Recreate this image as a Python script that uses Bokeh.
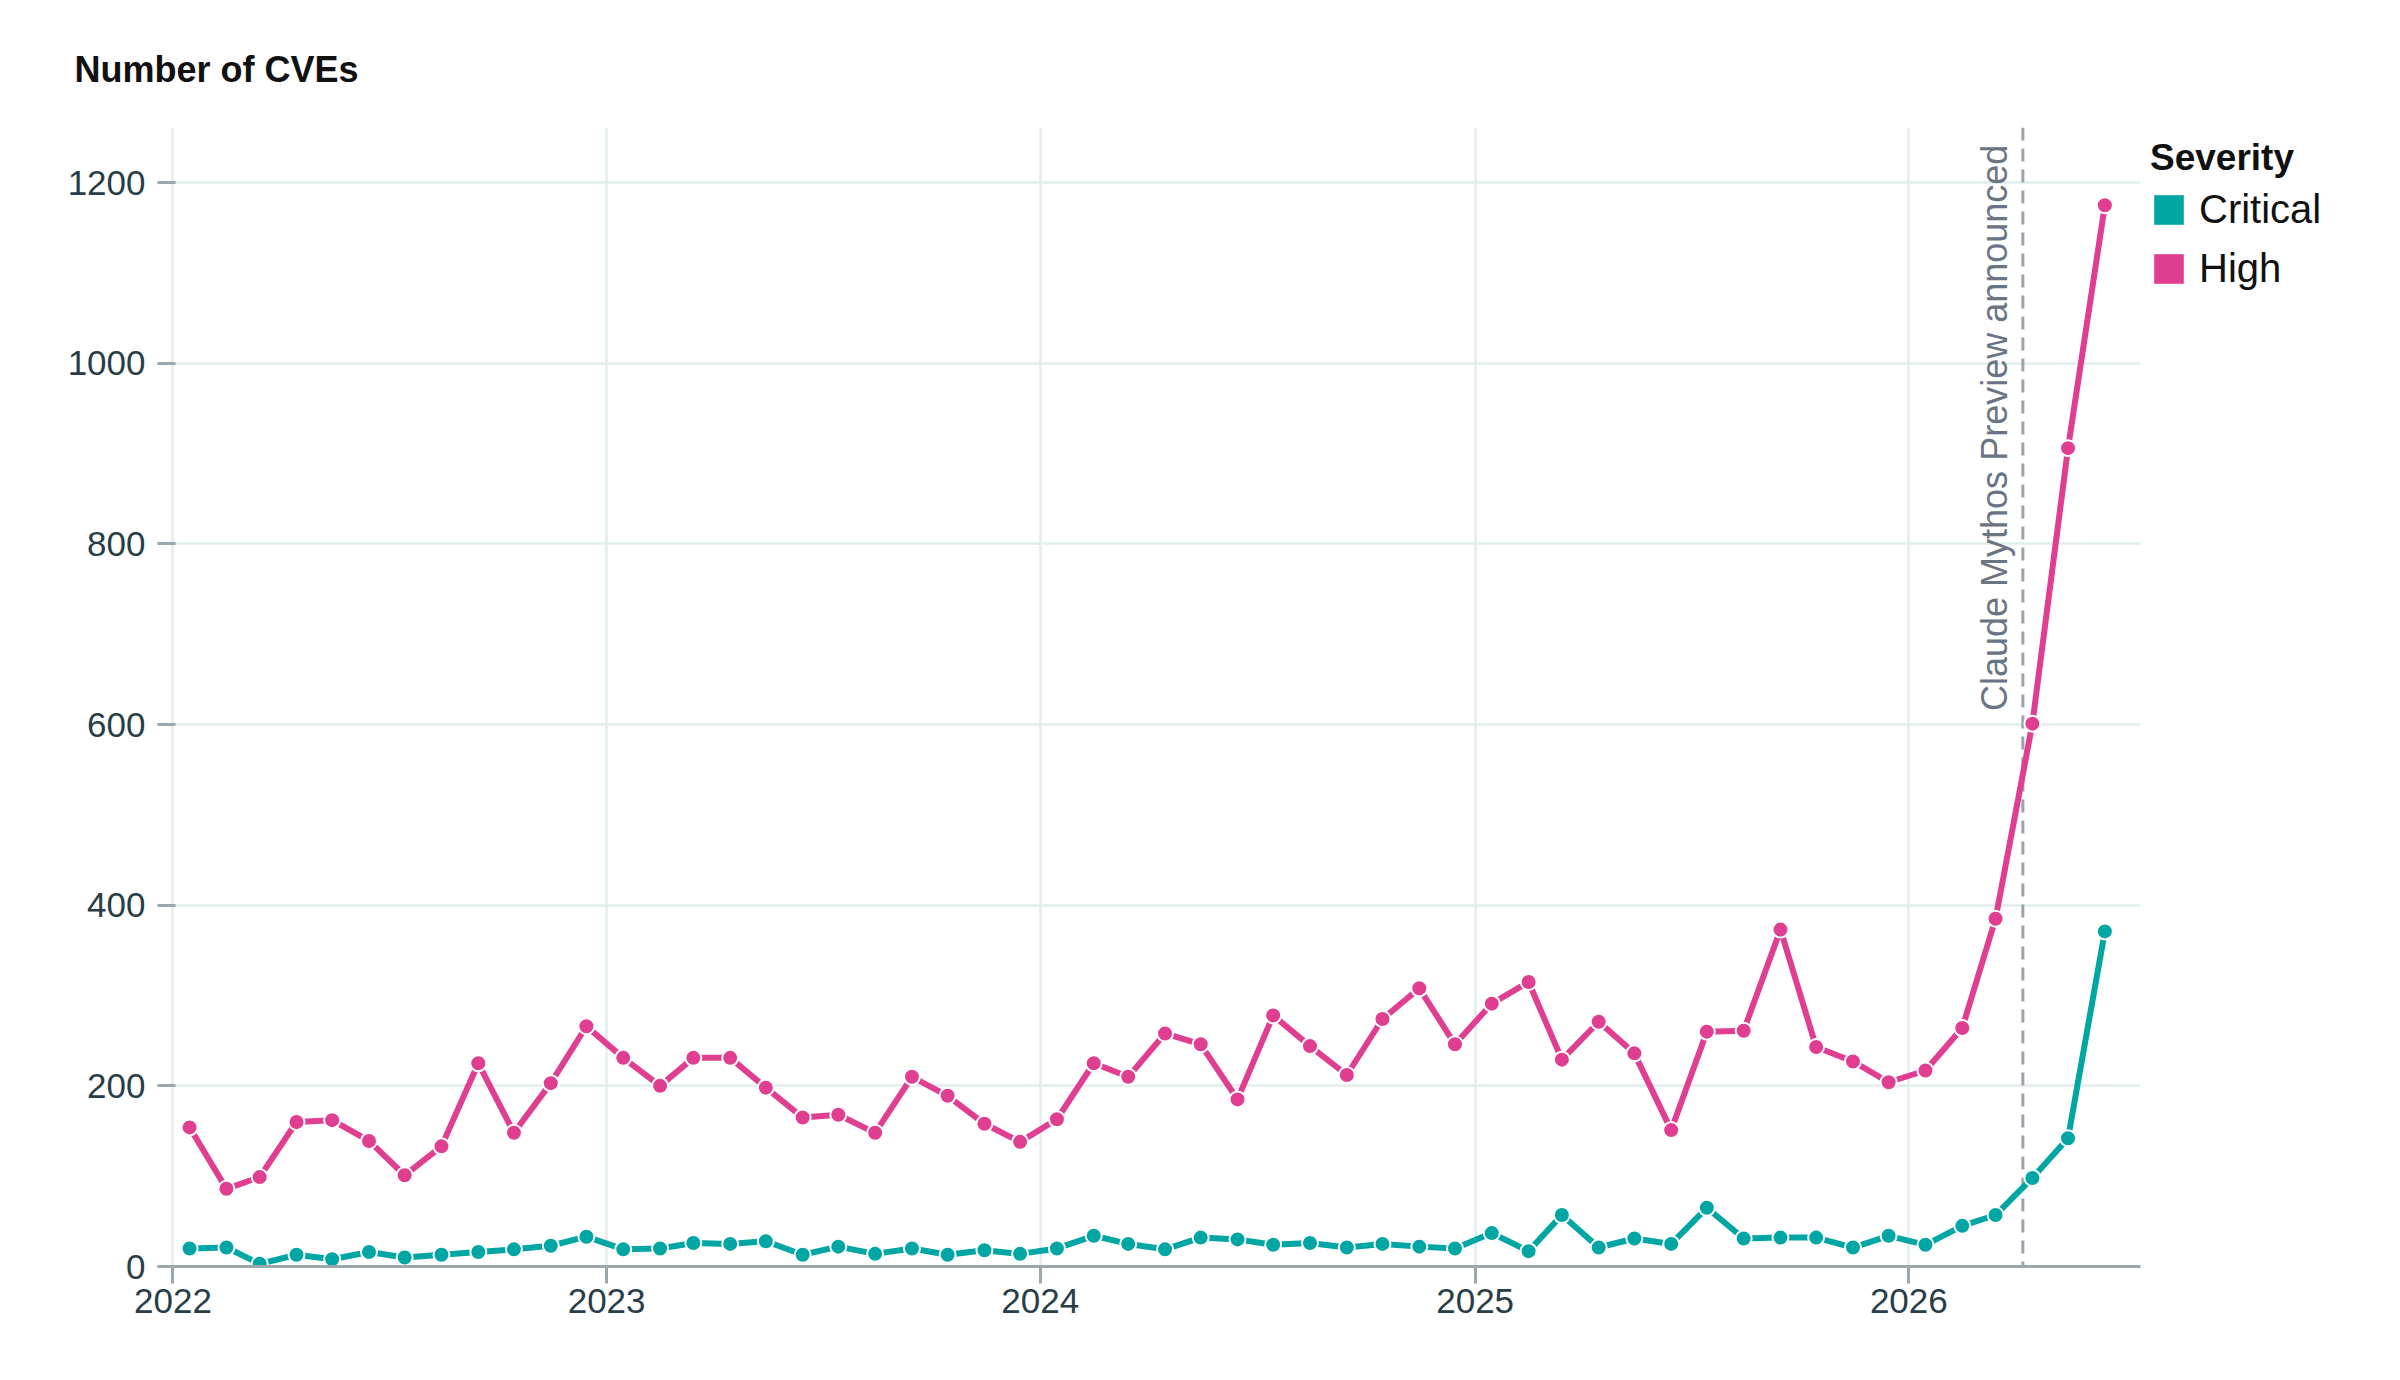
import math
import calendar
from datetime import datetime

from bokeh.plotting import figure
from bokeh.models import (ColumnDataSource, Range1d, FixedTicker, DatetimeTickFormatter,
                          Span, Label, Legend, LegendItem)
from bokeh.embed import file_html
from bokeh.resources import INLINE

# ---------------- data ----------------
years = [2022, 2023, 2024, 2025, 2026]
months_per_year = [12, 12, 12, 12, 6]
month_dates = [datetime(y, m, 15) for y, n in zip(years, months_per_year) for m in range(1, n + 1)]

high = [154, 86, 99, 160, 162, 139, 101, 133, 225, 148, 203, 266,
        231, 200, 231, 231, 198, 165, 168, 148, 210, 189, 158, 138,
        163, 225, 210, 258, 246, 185, 278, 244, 212, 274, 308, 246,
        291, 315, 229, 271, 236, 151, 260, 261, 373, 243, 227, 204,
        217, 264, 385, 601, 906, 1175]

critical = [20, 21, 3, 13, 8, 16, 10, 13, 16, 19, 23, 33,
            19, 20, 26, 25, 28, 13, 22, 14, 20, 13, 18, 14,
            20, 34, 25, 19, 32, 30, 24, 26, 21, 25, 22, 20,
            37, 17, 57, 21, 31, 25, 65, 31, 32, 32, 21, 34,
            24, 45, 57, 98, 142, 371]

y_ticks = [0, 200, 400, 600, 800, 1000, 1200]
tick_years = [2022, 2023, 2024, 2025, 2026]
series_names = ["Critical", "High"]
event_date = datetime(2026, 4, 7)
event_text = "Claude Mythos Preview announced"


def ms(d):
    return calendar.timegm(d.timetuple()) * 1000.0


# ---------------- style ----------------
FONT = "Liberation Sans"
TEAL = "#00a6a4"
PINK = "#e03e91"
GRID = "#e2eded"
AXIS = "#9aa7ad"
TICK_TXT = "#283d48"

p = figure(frame_width=1983, frame_height=1139, x_axis_type="datetime",
           x_range=Range1d(ms(datetime(2021, 12, 19)), ms(datetime(2026, 7, 15))),
           y_range=Range1d(0, 1261),
           output_backend="svg", toolbar_location=None,
           min_border_left=157, min_border_right=0, min_border_top=127, min_border_bottom=98)
p.outline_line_color = None
p.background_fill_color = "white"

# title
p.title.text = "Number of CVEs"
p.title.text_font = FONT
p.title.text_font_size = "36px"
p.title.text_font_style = "bold"
p.title.text_color = "#111111"
p.title.align = "left"
p.title.offset = -83
p.title.standoff = 75

# axes
p.xaxis.ticker = FixedTicker(ticks=[ms(datetime(y, 1, 1)) for y in tick_years])
p.xaxis.formatter = DatetimeTickFormatter(years="%Y", months="%Y", days="%Y", hours="%Y")
p.xaxis.axis_line_color = AXIS
p.xaxis.axis_line_width = 3
p.xaxis.major_tick_line_color = AXIS
p.xaxis.major_tick_line_width = 3
p.xaxis.major_tick_in = 0
p.xaxis.major_tick_out = 17
p.xaxis.minor_tick_line_color = None
p.xaxis.major_label_text_font = FONT
p.xaxis.major_label_text_font_size = "35px"
p.xaxis.major_label_text_color = TICK_TXT
p.xaxis.major_label_standoff = 5

p.yaxis.ticker = FixedTicker(ticks=y_ticks)
p.yaxis.axis_line_color = None
p.yaxis.major_tick_line_color = AXIS
p.yaxis.major_tick_line_width = 3
p.yaxis.major_tick_in = 18
p.yaxis.major_tick_out = 0
p.yaxis.minor_tick_line_color = None
p.yaxis.major_label_text_font = FONT
p.yaxis.major_label_text_font_size = "35px"
p.yaxis.major_label_text_color = TICK_TXT
p.yaxis.major_label_standoff = 12

p.xgrid.grid_line_color = GRID
p.xgrid.grid_line_width = 2.5
p.ygrid.grid_line_color = GRID
p.ygrid.grid_line_width = 2.5

# event marker
p.add_layout(Span(location=ms(event_date), dimension="height", line_color="#9ca3ad",
                  line_width=3, line_dash="13 8", level="underlay"))
p.add_layout(Label(x=ms(event_date), y=1242, text=event_text, angle=math.pi / 2,
                   text_align="right", text_baseline="alphabetic", x_offset=-28,
                   text_font=FONT, text_font_size="36px", text_color="#6b7482"))

# series
src = ColumnDataSource(dict(x=month_dates, high=high, critical=critical))
for col, color in (("critical", TEAL), ("high", PINK)):
    p.line("x", col, source=src, line_color=color, line_width=6)
    p.scatter("x", col, source=src, size=16, fill_color=color, line_color="white", line_width=2)

# legend swatches: zero-size quads (draw nothing in the plot, give square legend swatches)
x0 = ms(month_dates[0])
sw_c = p.quad(left=[x0], right=[x0], top=[0], bottom=[0], fill_color=TEAL, line_color=None)
sw_h = p.quad(left=[x0], right=[x0], top=[0], bottom=[0], fill_color=PINK, line_color=None)
legend = Legend(items=[LegendItem(label=series_names[0], renderers=[sw_c]),
                       LegendItem(label=series_names[1], renderers=[sw_h])],
                title="Severity", location="top_left",
                padding=0, margin=10, border_line_color=None, background_fill_alpha=0,
                glyph_width=37, glyph_height=37, label_standoff=12, spacing=14,
                title_standoff=8,
                label_text_font=FONT, label_text_font_size="40px", label_text_color="#111111",
                title_text_font=FONT, title_text_font_size="37px", title_text_font_style="bold",
                title_text_color="#111111")
p.add_layout(legend, "right")

open("out.html", "w").write(file_html(p, INLINE))
